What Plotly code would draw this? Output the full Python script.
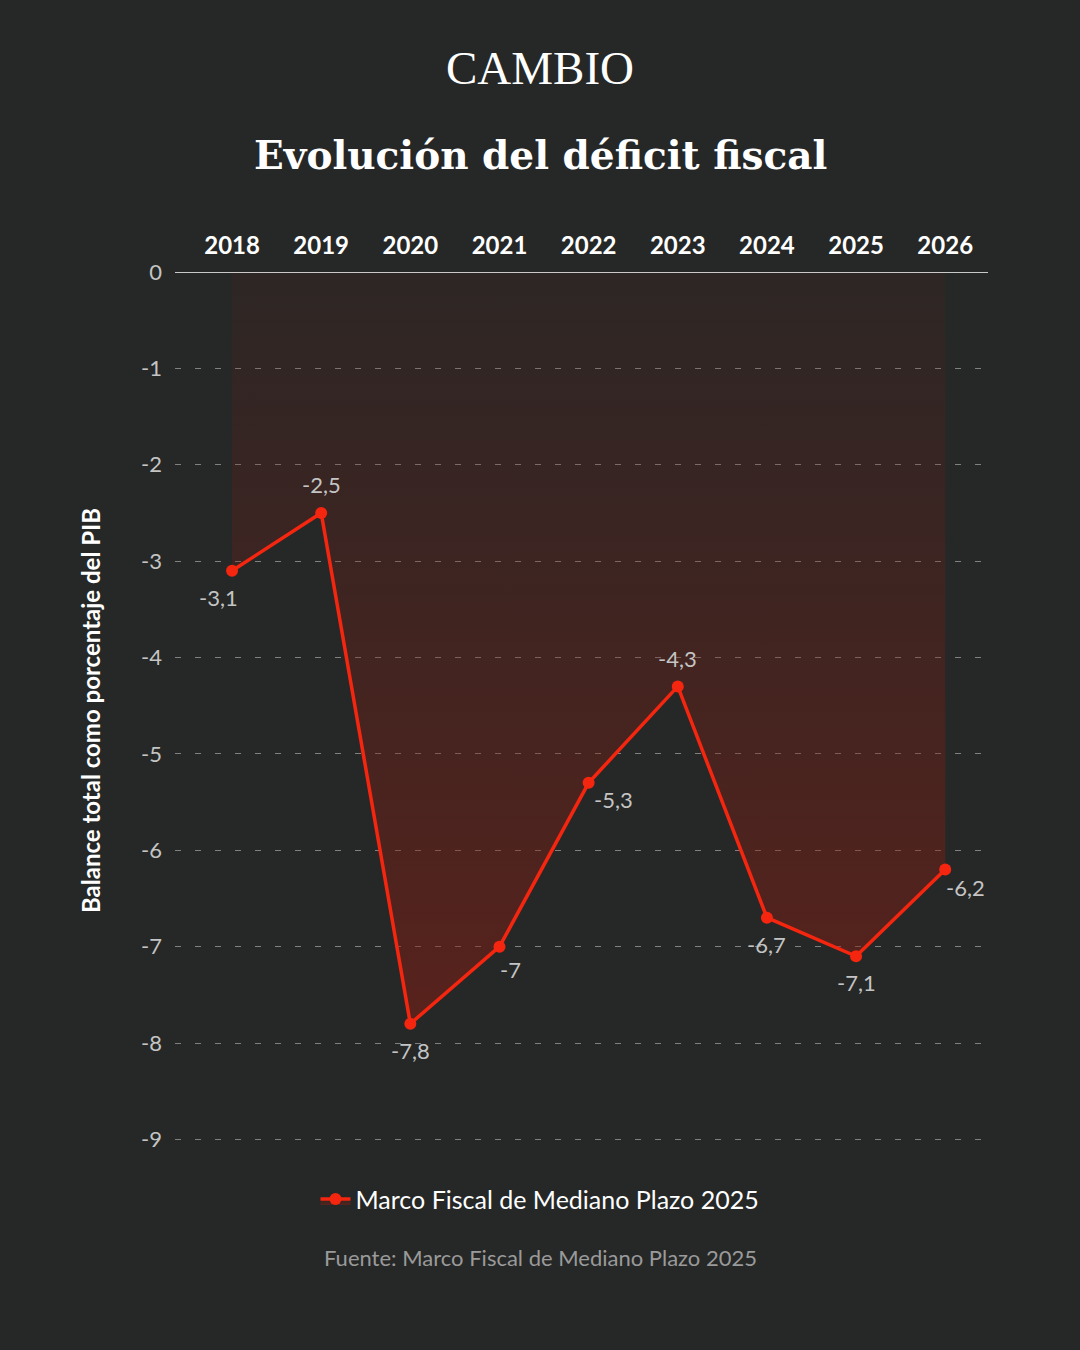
import plotly.graph_objects as go

years = [2018, 2019, 2020, 2021, 2022, 2023, 2024, 2025, 2026]
balance = [-3.1, -2.5, -7.8, -7.0, -5.3, -4.3, -6.7, -7.1, -6.2]
y_ticks = [0, -1, -2, -3, -4, -5, -6, -7, -8, -9]
series_name = "Marco Fiscal de Mediano Plazo 2025"
source_text = "Fuente: Marco Fiscal de Mediano Plazo 2025"

# label offsets in pixels (style only)
label_dx = [-14, 0, 0, 11, 25, 0, 0, 0, 20]
label_dy = [-27, 28, -27, -23, -17, 28, -27, -26, -18]

def fmt(v):
    s = f"{v:.1f}".replace(".", ",")
    return s[:-2] if s.endswith(",0") else s

BG = "#262827"
SANS = "Lato, 'Noto Sans', sans-serif"
SERIF = "'Liberation Serif', 'DejaVu Serif', serif"
SERIF_T = "'DejaVu Serif', 'Liberation Serif', serif"
RED = "#f5260f"
XC = (540 - 175) / 813  # page centre in plot-paper coords

fig = go.Figure()
fig.add_trace(go.Scatter(
    x=years, y=balance, mode="lines+markers", name=series_name,
    line=dict(color=RED, width=3.5), marker=dict(color=RED, size=12),
    fill="tozeroy",
    fillgradient=dict(type="vertical",
                      colorscale=[[0, "rgba(140,28,18,0.50)"], [0.5, "rgba(125,28,18,0.32)"],
                                  [1, "rgba(110,25,20,0.10)"]]),
    cliponaxis=False,
))

annotations = [
    dict(x=x, y=v, text=fmt(v), xref="x", yref="y", showarrow=False,
         xshift=dx, yshift=dy, font=dict(family=SANS, size=22, color="#c4c4c4"))
    for x, v, dx, dy in zip(years, balance, label_dx, label_dy)
]
annotations += [
    dict(text="CAMBIO", xref="paper", yref="paper", x=XC, y=1.232, showarrow=False,
         font=dict(family=SERIF, size=47, color="#ffffff"), yanchor="middle"),
    dict(text="<b>Evolución del déficit fiscal</b>", xref="paper", yref="paper", x=XC, y=1.1335,
         showarrow=False, font=dict(family=SERIF_T, size=39, color="#ffffff"), yanchor="middle"),
    dict(text="<b>Balance total como porcentaje del PIB</b>", xref="paper", yref="paper",
         x=-0.1045, y=0.5, textangle=-90, showarrow=False,
         font=dict(family=SANS, size=24, color="#ffffff"), xanchor="center", yanchor="middle"),
    dict(text=source_text, xref="paper", yref="paper",
         x=XC, y=-0.123, showarrow=False, yanchor="middle",
         font=dict(family=SANS, size=22, color="#9a9a9a")),
]

fig.update_layout(
    width=1080, height=1350,
    paper_bgcolor=BG, plot_bgcolor=BG,
    margin=dict(l=175, r=92, t=272, b=200, autoexpand=False),
    showlegend=True,
    legend=dict(orientation="h", x=XC, xanchor="center", y=-0.056, yanchor="middle",
                font=dict(family=SANS, size=25, color="#ffffff"), bgcolor="rgba(0,0,0,0)"),
    xaxis=dict(side="top", range=[2017.36, 2026.48], tickvals=years,
               ticktext=[str(y) for y in years], showgrid=False, zeroline=False,
               showline=False, ticks="", ticklabelstandoff=12, tickangle=0,
               tickfont=dict(family=SANS, size=24, color="#ffffff", weight="bold")),
    yaxis=dict(range=[-9.11, 0], tickvals=y_ticks, ticktext=[str(t) for t in y_ticks],
               showgrid=True, gridcolor="rgba(200,200,200,0.55)", griddash="6px,14px", gridwidth=1,
               zeroline=False, showline=False, ticks="", ticklabelstandoff=12,
               tickfont=dict(family=SANS, size=22, color="#c4c4c4")),
    shapes=[dict(type="line", xref="paper", yref="y", x0=0, x1=1, y0=0, y1=0,
                 line=dict(color="#ffffff", width=1.5))],
    annotations=annotations,
)

fig.write_html("out.html")
